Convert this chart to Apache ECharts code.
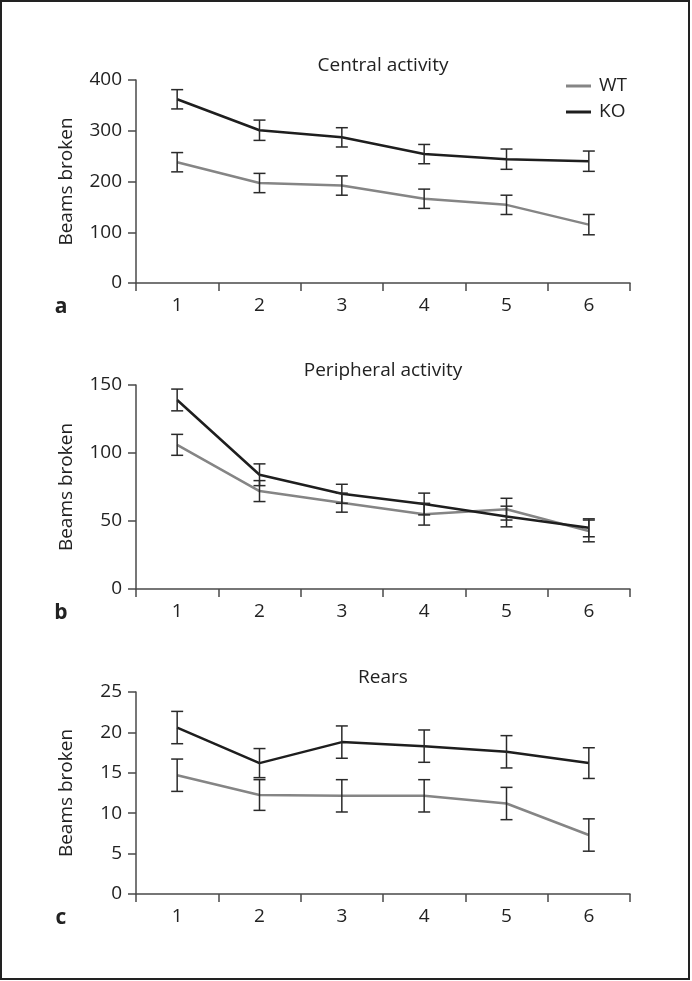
<!DOCTYPE html>
<html>
<head>
<meta charset="utf-8">
<script src="https://cdn.jsdelivr.net/npm/echarts@6/dist/echarts.min.js"></script>
<style>
html,body{margin:0;padding:0;background:#fff;}
#chart{width:692px;height:981px;}
</style>
</head>
<body>
<div id="chart"></div>
<script>
var categories = ['1', '2', '3', '4', '5', '6'];

var centralWT = [238, 197, 192, 166, 154, 115];
var centralWTErr = [19, 19, 19, 19, 19, 20];
var centralKO = [362, 301, 287, 254, 244, 240];
var centralKOErr = [19, 20, 19, 19, 20, 20];

var peripheralWT = [106, 72, 63.5, 55, 58.7, 42.7];
var peripheralWTErr = [7.7, 7.7, 7, 8, 8, 8];
var peripheralKO = [139, 84, 70, 62.5, 53.3, 45];
var peripheralKOErr = [8, 8, 7, 8, 7.6, 6.6];

var rearsWT = [14.7, 12.25, 12.15, 12.15, 11.2, 7.3];
var rearsWTErr = [2, 1.9, 2, 2, 2, 2];
var rearsKO = [20.6, 16.2, 18.8, 18.3, 17.6, 16.2];
var rearsKOErr = [2, 1.8, 2, 2, 2, 1.9];

var panelTitles = ['Central activity', 'Peripheral activity', 'Rears'];
var panelLetters = ['a', 'b', 'c'];
var yMax = [400, 150, 25];
var yInterval = [100, 50, 5];

var FONT = '"Open Sans", "Noto Sans", sans-serif';
var AXIS_COLOR = '#4a4a4a';
var TEXT_COLOR = '#222';
var WT_COLOR = '#858585';
var KO_COLOR = '#1e1e1e';
var FS = 19;

var grids = [
  {left: 136, top: 80, width: 494, height: 203},
  {left: 136, top: 385, width: 494, height: 204},
  {left: 136, top: 692, width: 494, height: 202}
];

var panels = [
  {wt: centralWT, wtErr: centralWTErr, ko: centralKO, koErr: centralKOErr},
  {wt: peripheralWT, wtErr: peripheralWTErr, ko: peripheralKO, koErr: peripheralKOErr},
  {wt: rearsWT, wtErr: rearsWTErr, ko: rearsKO, koErr: rearsKOErr}
];

function errData(vals, errs) {
  return vals.map(function (v, i) { return [i, v, errs[i]]; });
}

function renderErr(params, api) {
  var x = api.value(0), y = api.value(1), e = api.value(2);
  var top = api.coord([x, y + e]);
  var bot = api.coord([x, y - e]);
  var hw = 6;
  var style = {stroke: '#2a2a2a', lineWidth: 1.5};
  return {
    type: 'group',
    children: [
      {type: 'line', shape: {x1: top[0], y1: top[1], x2: bot[0], y2: bot[1]}, style: style},
      {type: 'line', shape: {x1: top[0] - hw, y1: top[1], x2: top[0] + hw, y2: top[1]}, style: style},
      {type: 'line', shape: {x1: bot[0] - hw, y1: bot[1], x2: bot[0] + hw, y2: bot[1]}, style: style}
    ]
  };
}

var xAxes = [], yAxes = [], series = [], graphics = [];

grids.forEach(function (g, i) {
  xAxes.push({
    type: 'category', gridIndex: i, data: categories, boundaryGap: true,
    axisLine: {show: true, lineStyle: {color: AXIS_COLOR, width: 1.5}},
    axisTick: {show: true, length: 8, lineStyle: {color: AXIS_COLOR, width: 1.5}},
    axisLabel: {color: TEXT_COLOR, fontSize: FS, fontFamily: FONT, margin: 13},
    splitLine: {show: false}
  });
  yAxes.push({
    type: 'value', gridIndex: i, min: 0, max: yMax[i], interval: yInterval[i],
    name: 'Beams broken', nameLocation: 'middle', nameGap: 60,
    nameTextStyle: {color: TEXT_COLOR, fontSize: FS, fontFamily: FONT},
    axisLine: {show: true, lineStyle: {color: AXIS_COLOR, width: 1.5}},
    axisTick: {show: true, length: 8, lineStyle: {color: AXIS_COLOR, width: 1.5}},
    axisLabel: {color: TEXT_COLOR, fontSize: FS, fontFamily: FONT, margin: 14},
    splitLine: {show: false}
  });
  var p = panels[i];
  series.push({
    name: 'WT', type: 'line', xAxisIndex: i, yAxisIndex: i, data: p.wt,
    symbol: 'none', lineStyle: {color: WT_COLOR, width: 2.5}, itemStyle: {color: WT_COLOR}, z: 2
  });
  series.push({
    name: 'KO', type: 'line', xAxisIndex: i, yAxisIndex: i, data: p.ko,
    symbol: 'none', lineStyle: {color: KO_COLOR, width: 2.5}, itemStyle: {color: KO_COLOR}, z: 3
  });
  series.push({
    type: 'custom', xAxisIndex: i, yAxisIndex: i, data: errData(p.wt, p.wtErr),
    renderItem: renderErr, encode: {x: 0, y: 1}, z: 4, silent: true
  });
  series.push({
    type: 'custom', xAxisIndex: i, yAxisIndex: i, data: errData(p.ko, p.koErr),
    renderItem: renderErr, encode: {x: 0, y: 1}, z: 4, silent: true
  });
  graphics.push({
    type: 'text', x: g.left + g.width / 2, y: g.top - 14,
    style: {text: panelTitles[i], fill: TEXT_COLOR, font: FS + 'px ' + FONT, textAlign: 'center', textVerticalAlign: 'middle'}
  });
  graphics.push({
    type: 'text', x: 61, y: g.top + g.height + 24,
    style: {text: panelLetters[i], fill: TEXT_COLOR, font: 'bold 21px ' + FONT, textAlign: 'center', textVerticalAlign: 'middle'}
  });
});

graphics.push({
  type: 'rect', shape: {x: 1, y: 1, width: 688, height: 978},
  style: {fill: null, stroke: '#222', lineWidth: 2}, silent: true
});

var chart = echarts.init(document.getElementById('chart'), null, {renderer: 'canvas'});
chart.setOption({
  animation: false,
  backgroundColor: '#fff',
  grid: grids,
  xAxis: xAxes,
  yAxis: yAxes,
  legend: {
    data: ['WT', 'KO'], orient: 'vertical', left: 561, top: 71,
    icon: 'rect', itemWidth: 25, itemHeight: 3, itemGap: 6,
    textStyle: {color: TEXT_COLOR, fontSize: FS, fontFamily: FONT, lineHeight: 20, padding: [0, 0, 0, 3]},
    selectedMode: false
  },
  series: series,
  graphic: graphics
});
</script>
</body>
</html>
